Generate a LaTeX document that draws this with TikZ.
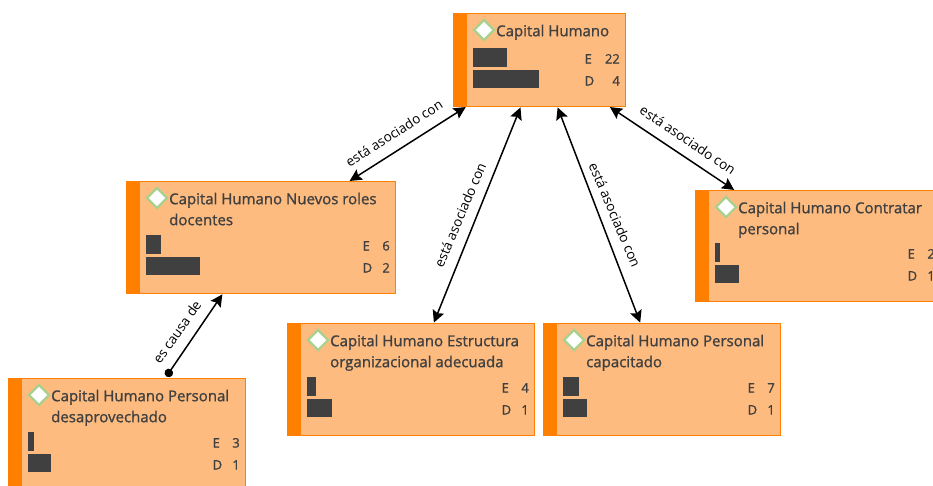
\documentclass[tikz,border=0pt]{standalone}
\usepackage{fontspec}
\setmainfont{Open Sans}
\newfontfamily\cardfont[FakeBold=1.2]{Open Sans}
\usetikzlibrary{shapes.geometric,arrows.meta,calc}
\definecolor{cardfill}{HTML}{FDBB7F}
\definecolor{cardedge}{HTML}{FF8000}
\definecolor{ink}{HTML}{404040}
\definecolor{markgreen}{HTML}{A9D18E}
\tikzset{
  card/.style={draw=cardedge,line width=1.6pt,fill=cardfill,rectangle,anchor=north west,inner sep=0pt,outer sep=0pt},
  strip/.style={fill=cardedge,draw=none},
  bar/.style={fill=ink,draw=none},
  markd/.style={diamond,draw=markgreen,line width=2.2pt,fill=white,minimum width=21pt,minimum height=21pt,inner sep=0pt},
  titletext/.style={text=ink,font=\cardfont\fontsize{15}{21}\selectfont,align=left,anchor=north west,inner sep=0pt},
  count/.style={text=ink,font=\cardfont\fontsize{13}{15}\selectfont,inner sep=0pt},
  link/.style={draw=black,line width=1.5pt,{Stealth[length=12pt,width=12pt,inset=2pt]}-{Stealth[length=12pt,width=12pt,inset=2pt]},shorten <=1pt,shorten >=1pt},
  cause/.style={draw=black,line width=1.5pt,{Stealth[length=12pt,width=12pt,inset=2pt]}-{Circle[length=8.5pt]},shorten <=1pt,shorten >=2.5pt},
  rel/.style={text=black,font=\fontsize{13.5}{15}\selectfont,inner sep=0pt},
}
\newcommand{\mycard}[9]{%
  \node[card,minimum width=#4pt,minimum height=#5pt] (#1) at (#2+.5,#3+.5) {};
  \fill[strip] (#2,#3) rectangle ++(14,#5);
  \def\mybarA{#6}\def\mybarB{#7}\coordinate (#1-org) at (#2,#3);%
  \node[markd] (#1-mark) at ($(#2,#3)+(31,17)$) {};
  \node[titletext] (#1-title) at ($(#2,#3)+(43,11.6)$) {#8};
  \mycounts{#1}{#9}%
}
\newcommand{\mycounts}[2]{\def\mycardname{#1}\mycountsB#2}
\def\mycountsB#1#2#3#4{%
  \fill[bar] ($(\mycardname-org)+(20,35+#4)$) rectangle ++(\mybarA,19);
  \fill[bar] ($(\mycardname-org)+(20,57+#4)$) rectangle ++(\mybarB,18);
  \node[count,anchor=base west] (\mycardname-el) at ($(\mycardname.north east)+(-#3,50+#4)$) {E};
  \node[count,anchor=base east] (\mycardname-ev) at ($(\mycardname.north east)+(-5.5,50+#4)$) {#1};
  \node[count,anchor=base west] (\mycardname-dl) at ($(\mycardname.north east)+(-#3,72+#4)$) {D};
  \node[count,anchor=base east] (\mycardname-dv) at ($(\mycardname.north east)+(-5.5,72+#4)$) {#2};
}
\begin{document}
\begin{tikzpicture}[x=1pt,y=-1pt]
\useasboundingbox (0,0) rectangle (933,485);
\clip (0,0) rectangle (933,485);
\mycard{top}{453}{13}{172}{93}{34}{66}{Capital Humano}{{22}{4}{41}{0}}
\mycard{roles}{126}{181}{269}{112}{15}{54}{Capital Humano Nuevos roles\\docentes}{{6}{2}{33}{19}}
\mycard{hire}{695}{190}{245}{111}{5}{24}{Capital Humano Contratar\\personal}{{2}{1}{33}{18}}
\mycard{struct}{287}{323}{247}{112}{9}{25}{Capital Humano Estructura\\organizacional adecuada}{{4}{1}{33}{19}}
\mycard{skilled}{543}{323}{237}{112}{16}{24}{Capital Humano Personal\\capacitado}{{7}{1}{33}{19}}
\mycard{waste}{8}{378}{237}{112}{6}{23}{Capital Humano Personal\\desaprovechado}{{3}{1}{33}{19}}
\draw[link] (top) -- (roles);
\draw[link] (top) -- (struct);
\draw[link] (top) -- (skilled);
\draw[link] (top) -- (hire);
\draw[cause] (roles) -- (waste);
\node[rel,rotate=32.5] (l1) at (394,133) {está asociado con};
\node[rel,rotate=67] (l2) at (460,215) {está asociado con};
\node[rel,rotate=-67] (l3) at (615,215) {está asociado con};
\node[rel,rotate=-34] (l4) at (688,140) {está asociado con};
\node[rel,rotate=55] (l5) at (177,332) {es causa de};
\end{tikzpicture}
\end{document}
